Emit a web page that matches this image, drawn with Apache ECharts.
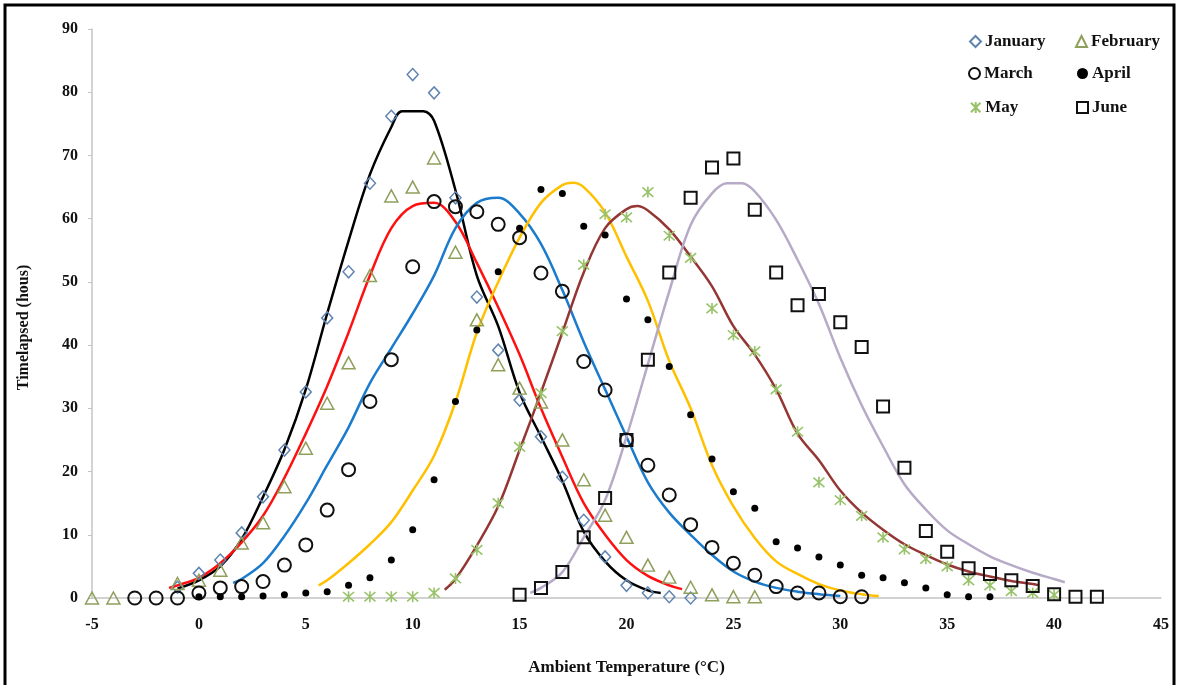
<!DOCTYPE html>
<html>
<head>
<meta charset="utf-8">
<title>Timelapsed vs ambient temperature</title>
<script src="https://cdn.jsdelivr.net/npm/echarts@6.0.0/dist/echarts.min.js"></script>
<style>
  html, body { margin: 0; padding: 0; background: #fff; }
  #chart { width: 1179px; height: 685px; }
</style>
</head>
<body>
<div id="chart"></div>
<script>
// observed points (x = ambient temperature, y = hours)
var janX = [-1, 0, 1, 2, 3, 4, 5, 6, 7, 8, 9, 10, 11, 12, 13, 14, 15, 16, 17, 18, 19, 20, 21, 22, 23];
var janY = [1.7, 3.9, 6, 10.3, 16, 23.4, 32.6, 44.3, 51.6, 65.6, 76.2, 82.8, 79.9, 63.3, 47.6, 39.2, 31.3, 25.5, 19.1, 12.3, 6.5, 2, 0.8, 0.2, 0];

var febX = [-5, -4, -1, 0, 1, 2, 3, 4, 5, 6, 7, 8, 9, 10, 11, 12, 13, 14, 15, 16, 17, 18, 19, 20, 21, 22, 23, 24, 25, 26];
var febY = [0, 0, 2.3, 2.8, 4.4, 8.7, 11.9, 17.6, 23.7, 30.8, 37.2, 51, 63.6, 65, 69.6, 54.7, 44, 36.9, 33.2, 31, 25, 18.7, 13.1, 9.6, 5.2, 3.3, 1.7, 0.5, 0.2, 0.2];

var marX = [-3, -2, -1, 0, 1, 2, 3, 4, 5, 6, 7, 8, 9, 10, 11, 12, 13, 14, 15, 16, 17, 18, 19, 20, 21, 22, 23, 24, 25, 26, 27, 28, 29, 30, 31];
var marY = [0, 0, 0, 0.8, 1.6, 1.8, 2.6, 5.2, 8.4, 13.9, 20.3, 31.1, 37.7, 52.4, 62.7, 61.9, 61.1, 59.1, 57, 51.4, 48.5, 37.4, 32.9, 25, 21, 16.3, 11.6, 8, 5.5, 3.6, 1.8, 0.8, 0.8, 0.2, 0.2];

var aprX = [0, 1, 2, 3, 4, 5, 6, 7, 8, 9, 10, 11, 12, 13, 14, 15, 16, 17, 18, 19, 20, 21, 22, 23, 24, 25, 26, 27, 28, 29, 30, 31, 32, 33, 34, 35, 36, 37];
var aprY = [0.2, 0.2, 0.2, 0.3, 0.5, 0.8, 1, 2, 3.2, 6, 10.8, 18.7, 31.1, 42.4, 51.6, 58.5, 64.6, 64, 58.8, 57.4, 47.3, 44, 36.6, 29, 22, 16.8, 14.2, 8.9, 7.9, 6.5, 5.2, 3.6, 3.2, 2.4, 1.6, 0.5, 0.2, 0.2];

var mayX = [7, 8, 9, 10, 11, 12, 13, 14, 15, 16, 17, 18, 19, 20, 21, 22, 23, 24, 25, 26, 27, 28, 29, 30, 31, 32, 33, 34, 35, 36, 37, 38, 39, 40];
var mayY = [0.2, 0.2, 0.2, 0.2, 0.8, 3.1, 7.6, 15, 23.9, 32.4, 42.2, 52.7, 60.7, 60.2, 64.2, 57.3, 53.8, 45.8, 41.6, 39, 33, 26.3, 18.3, 15.5, 13, 9.6, 7.7, 6.2, 5, 2.8, 2, 1.1, 0.8, 0.5];

var junX = [15, 16, 17, 18, 19, 20, 21, 22, 23, 24, 25, 26, 27, 28, 29, 30, 31, 32, 33, 34, 35, 36, 37, 38, 39, 40, 41, 42];
var junY = [0.5, 1.6, 4.1, 9.6, 15.8, 25, 37.7, 51.5, 63.3, 68.1, 69.5, 61.4, 51.5, 46.3, 48.1, 43.6, 39.7, 30.3, 20.6, 10.6, 7.3, 4.7, 3.8, 2.8, 1.9, 0.6, 0.2, 0.2];

// fitted curves
var fitJanX = [-1, 0, 1, 2, 3, 4, 5, 6, 7, 8, 9, 9.5, 10.5, 11, 12, 13, 14, 15, 16, 17, 18, 19, 20, 21, 21.6];
var fitJanY = [1.5, 2.8, 5, 9.3, 16, 23.5, 33, 45, 56.5, 67, 74.5, 77, 77, 75.5, 64.5, 51, 43, 32.5, 25.5, 18.5, 10.5, 5.8, 2.8, 1.2, 0.8];

var fitFebX = [-1.4, -1, 0, 1, 2, 3, 4, 5, 6, 7, 8, 9, 10, 11, 12, 13, 14, 15, 16, 17, 18, 19, 20, 21, 22, 22.6];
var fitFebY = [1.6, 2, 3.2, 5.5, 8.8, 13, 19, 26, 33.5, 42, 51, 58.5, 62, 62.5, 59.5, 53, 46, 38.5, 30, 22.3, 15, 10, 6, 3.5, 2, 1.4];

var fitMarX = [1.6, 2, 3, 4, 5, 6, 7, 8, 9, 10, 11, 12, 13, 14, 15, 16, 17, 18, 19, 20, 21, 22, 23, 24, 25, 26, 27, 28, 29, 30];
var fitMarY = [2.4, 3, 5.5, 9.8, 15, 21, 27, 34, 39.5, 45, 51, 58.5, 62.5, 63.3, 60.8, 56, 48.7, 40.5, 33, 25.5, 18.3, 13.5, 10, 6.8, 4.2, 2.6, 1.6, 1, 0.6, 0.3];

var fitAprX = [5.6, 6, 7, 8, 9, 10, 11, 12, 13, 14, 15, 16, 17, 17.5, 18, 19, 20, 21, 22, 23, 24, 25, 26, 27, 28, 29, 30, 31, 31.8];
var fitAprY = [2, 2.8, 5.5, 8.5, 12, 17, 22.5, 31, 42, 50, 57, 62.5, 65.3, 65.7, 65, 61, 54, 47, 37.5, 30, 21, 14.5, 9.5, 5.8, 3.8, 2.2, 1.2, 0.6, 0.3];

var fitMayX = [11.5, 12, 13, 14, 15, 16, 17, 18, 19, 20, 20.5, 21, 22, 23, 24, 25, 26, 27, 28, 29, 30, 31, 32, 33, 34, 35, 36, 37, 38, 39, 39.3];
var fitMayY = [1.3, 3, 8.3, 14.5, 23.4, 32.5, 42, 51.5, 58.5, 61.5, 62, 61.3, 58.3, 54, 49.3, 43, 38.5, 33, 26, 21.8, 17, 13.5, 10.8, 8.5, 6.8, 5.3, 4.2, 3.4, 2.7, 2.2, 2];

var fitJunX = [15.5, 16, 17, 18, 19, 20, 21, 22, 23, 24, 24.7, 25.4, 26, 27, 28, 29, 30, 31, 32, 33, 34, 35, 36, 37, 38, 39, 40, 40.5];
var fitJunY = [0.8, 1.6, 4.1, 9.6, 15.5, 25.5, 37, 48.5, 59, 64, 65.6, 65.6, 64.3, 59.8, 53.5, 46.5, 38, 30.5, 24, 18, 14, 10.7, 8.5, 6.6, 5.2, 4, 3, 2.5];

var serif = '"Liberation Serif", "DejaVu Serif", serif';
var asterisk = 'path://M5,0L5,10M0.7,0.7L9.3,9.3M9.3,0.7L0.7,9.3';

function zip(xs, ys) {
  return xs.map(function (x, i) { return [x, ys[i]]; });
}

function fitLine(name, xs, ys, color) {
  return {
    name: name,
    type: 'line',
    data: zip(xs, ys),
    smooth: 0.35,
    showSymbol: false,
    silent: true,
    z: 2,
    lineStyle: { color: color, width: 2.5 }
  };
}

function dots(name, xs, ys, symbol, size, fill, stroke, bw) {
  return {
    name: name,
    type: 'scatter',
    data: zip(xs, ys),
    symbol: symbol,
    symbolSize: size,
    z: 3,
    itemStyle: { color: fill, borderColor: stroke, borderWidth: bw, opacity: 1 }
  };
}

function legendItem(name, left, top) {
  return {
    data: [name],
    left: left,
    top: top,
    itemWidth: 11,
    itemHeight: 11,
    itemGap: 0,
    selectedMode: false,
    padding: 0,
    textStyle: { fontFamily: serif, fontWeight: 'bold', fontSize: 17, color: '#111', padding: [0, 0, 0, -1] }
  };
}

var myChart = echarts.init(document.getElementById('chart'));

var option = {
  backgroundColor: '#fff',
  animation: false,
  grid: { left: 92, right: 18, top: 29, bottom: 87 },
  legend: [
    legendItem('January', 969, 33),
    legendItem('February', 1075, 33),
    legendItem('March', 968, 65),
    legendItem('April', 1077, 65),
    legendItem('May', 970, 99),
    legendItem('June', 1076, 99)
  ],
  xAxis: {
    type: 'value',
    min: -5,
    max: 45,
    interval: 5,
    name: 'Ambient Temperature (°C)',
    nameLocation: 'middle',
    nameGap: 61,
    nameTextStyle: { fontFamily: serif, fontWeight: 'bold', fontSize: 17, color: '#111' },
    axisLine: { onZero: false, lineStyle: { color: '#c4c4c4', width: 1.5 } },
    axisTick: { show: false },
    splitLine: { show: false },
    axisLabel: { margin: 19, fontFamily: serif, fontWeight: 'bold', fontSize: 16, color: '#111' }
  },
  yAxis: {
    type: 'value',
    min: 0,
    max: 90,
    interval: 10,
    name: 'Timelapsed (hous)',
    nameLocation: 'middle',
    nameGap: 60,
    nameTextStyle: { fontFamily: serif, fontWeight: 'bold', fontSize: 16, color: '#111', padding: [0, 28, 0, 0] },
    axisLine: { show: true, onZero: false, lineStyle: { color: '#c4c4c4', width: 1.5 } },
    axisTick: { show: true, length: 4, lineStyle: { color: '#c4c4c4' } },
    splitLine: { show: false },
    axisLabel: { margin: 14, fontFamily: serif, fontWeight: 'bold', fontSize: 16, color: '#111' }
  },
  graphic: [{
    type: 'rect',
    silent: true,
    shape: { x: 5, y: 5, width: 1169, height: 720 },
    style: { fill: 'none', stroke: '#000', lineWidth: 3 }
  }],
  series: [
    fitLine('January fit', fitJanX, fitJanY, '#000000'),
    fitLine('February fit', fitFebX, fitFebY, '#ff1010'),
    fitLine('March fit', fitMarX, fitMarY, '#1b7bcc'),
    fitLine('April fit', fitAprX, fitAprY, '#ffc000'),
    fitLine('May fit', fitMayX, fitMayY, '#943634'),
    fitLine('June fit', fitJunX, fitJunY, '#b6aac6'),
    dots('January', janX, janY, 'diamond', [11, 12], 'transparent', '#5f84b0', 1.5),
    dots('February', febX, febY, 'triangle', [13, 12], 'transparent', '#8f9f5c', 1.5),
    dots('March', marX, marY, 'circle', 13, 'transparent', '#111', 2),
    dots('April', aprX, aprY, 'circle', 7, '#000', '#000', 0),
    dots('May', mayX, mayY, asterisk, 11, 'transparent', '#98c26a', 1.6),
    dots('June', junX, junY, 'rect', 12, 'transparent', '#111', 2)
  ]
};

myChart.setOption(option);
</script>
</body>
</html>
